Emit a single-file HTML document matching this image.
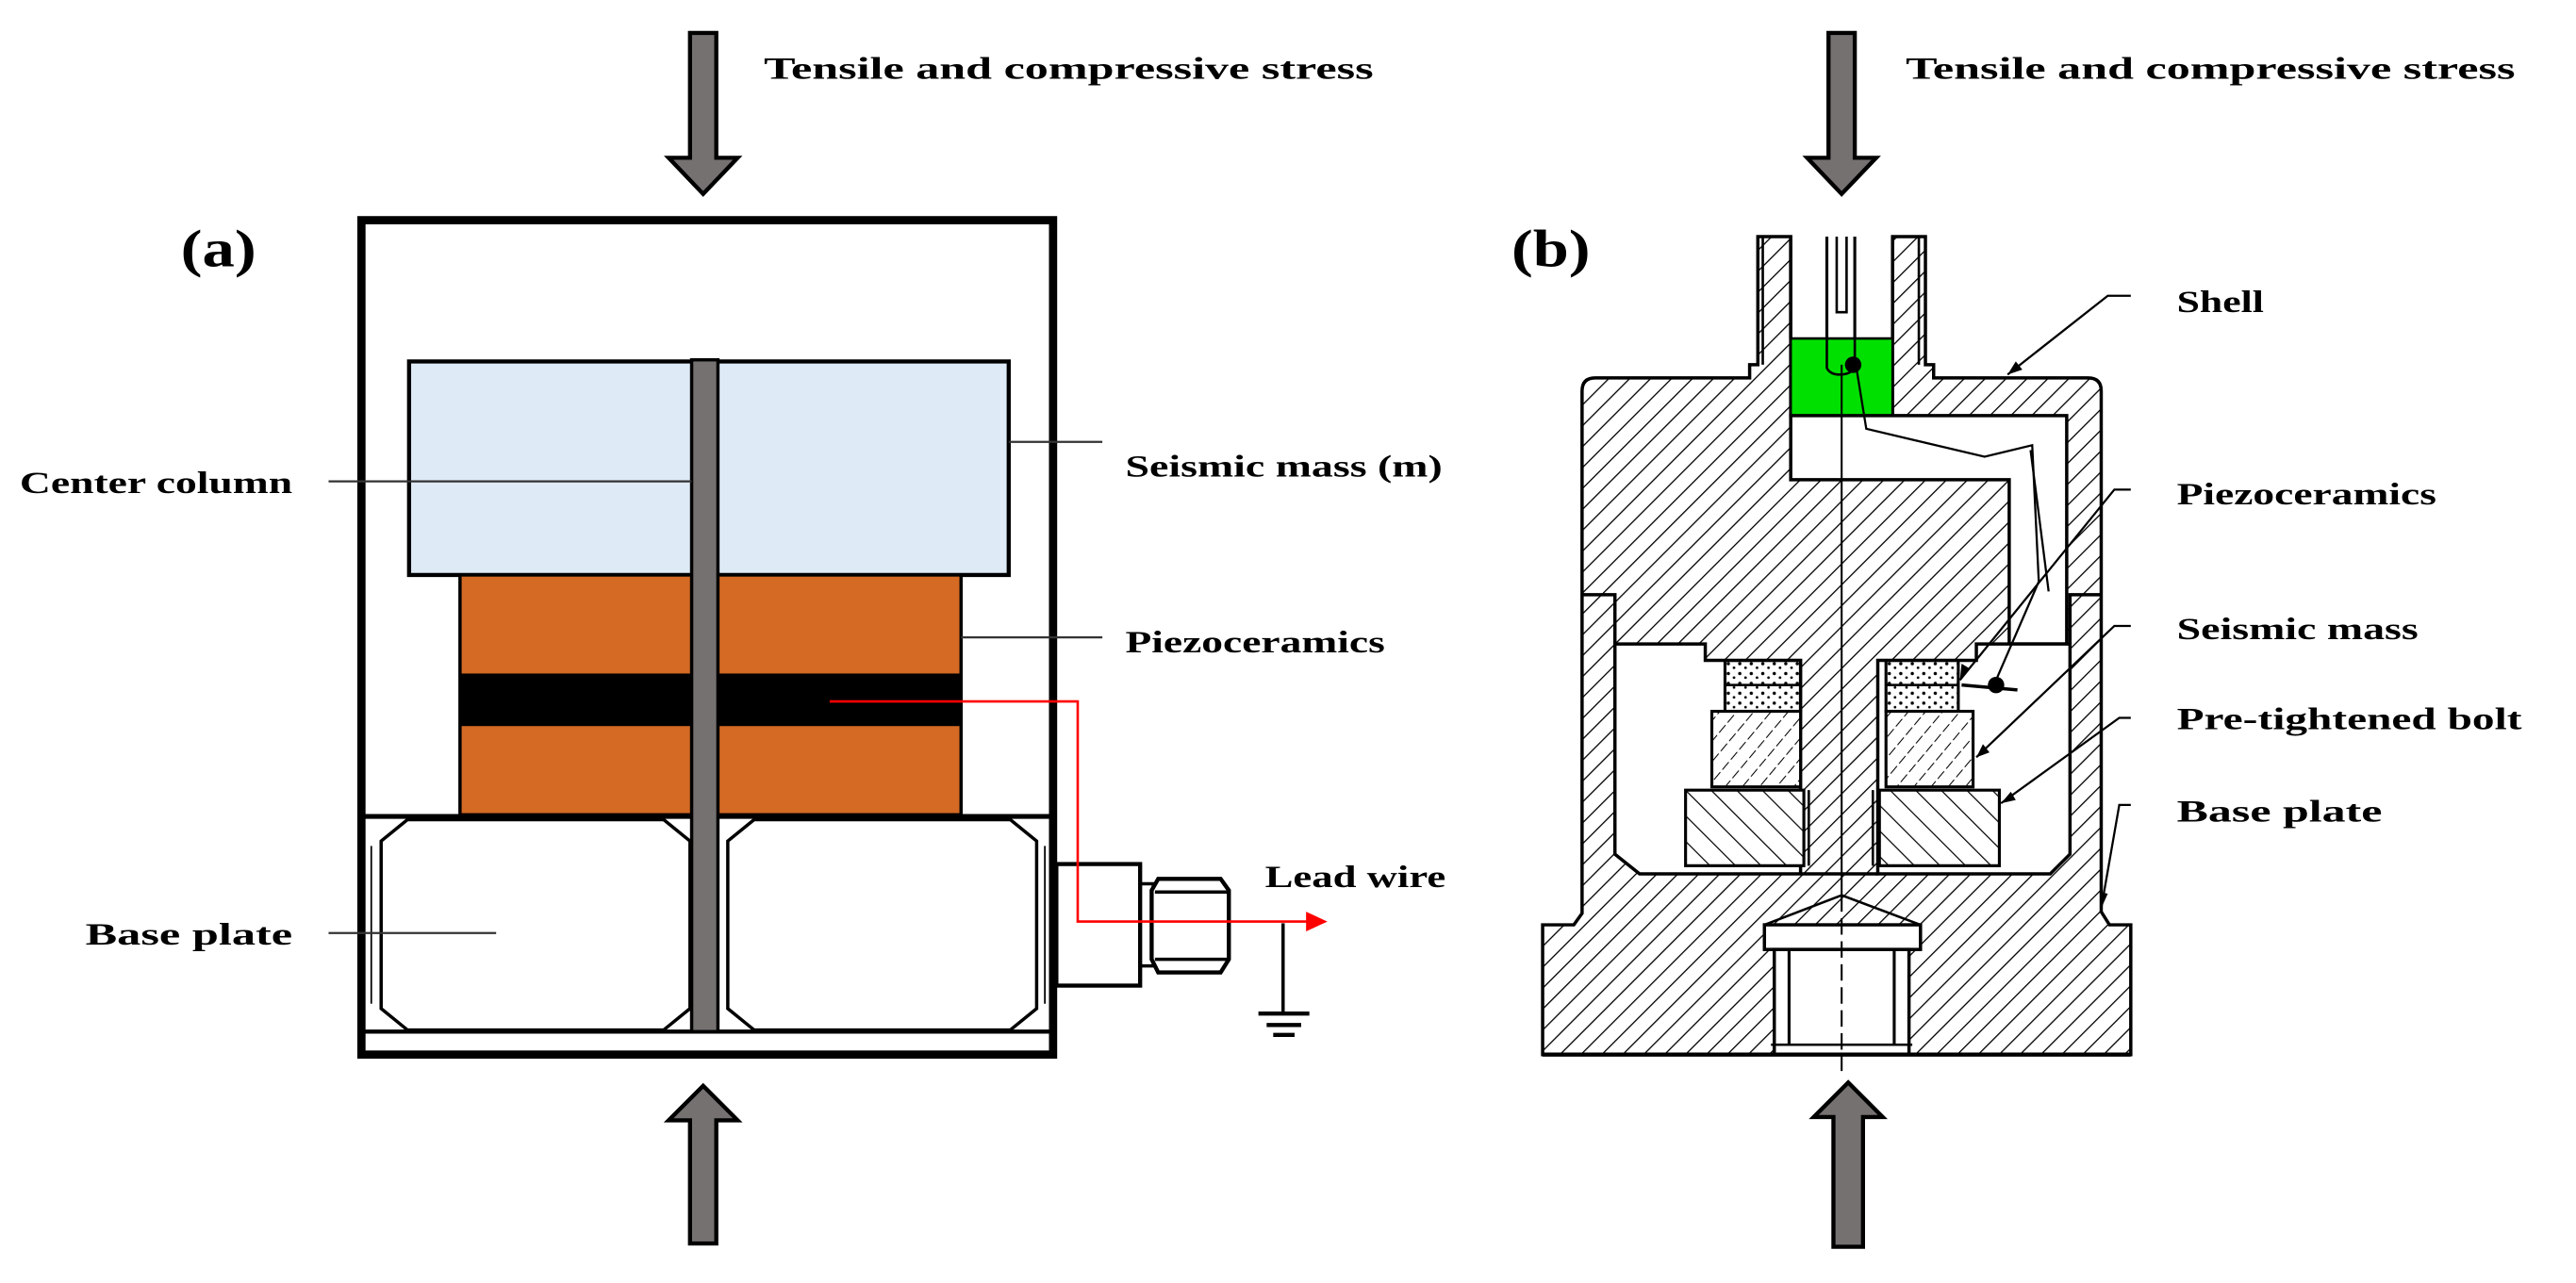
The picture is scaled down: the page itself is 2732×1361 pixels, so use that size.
<!DOCTYPE html>
<html><head><meta charset="utf-8"><style>
html,body{margin:0;padding:0;background:#fff;}
svg{display:block;}
text{font-family:"Liberation Serif","Times New Roman",serif;font-weight:700;fill:#000;}
</style></head><body>
<svg width="2732" height="1361" viewBox="0 0 1568 781" xmlns="http://www.w3.org/2000/svg" font-family="Liberation Serif, serif">
<defs>
<pattern id="h1" width="9" height="9" patternUnits="userSpaceOnUse" patternTransform="rotate(45)">
<line x1="0" y1="0" x2="0" y2="9" stroke="#000" stroke-width="1.5"/></pattern>
<pattern id="h2" width="11" height="11" patternUnits="userSpaceOnUse" patternTransform="rotate(-45)">
<line x1="0" y1="0" x2="0" y2="11" stroke="#000" stroke-width="1.4"/></pattern>
<pattern id="h3" width="8" height="8" patternUnits="userSpaceOnUse" patternTransform="rotate(40)">
<line x1="0" y1="0" x2="0" y2="8" stroke="#000" stroke-width="1.2" stroke-dasharray="5,2"/></pattern>
<pattern id="dots" width="7" height="6" patternUnits="userSpaceOnUse">
<circle cx="2" cy="2" r="1" fill="#000"/><circle cx="5.5" cy="4.5" r="0.8" fill="#000"/></pattern>
</defs>

<!-- ===== Panel (a) ===== -->
<path d="M420,20 H436 V96 H449 L428,118 L407,96 H420 Z" fill="#767171" stroke="#000" stroke-width="2.5"/>
<path d="M428,661 L449,682 H436 V757 H420 V682 H407 Z" fill="#767171" stroke="#000" stroke-width="2.5"/>

<rect x="220" y="134" width="421" height="508" fill="#fff" stroke="#000" stroke-width="5"/>
<line x1="222" y1="628" x2="639" y2="628" stroke="#000" stroke-width="2.5"/>
<line x1="222" y1="497" x2="639" y2="497" stroke="#000" stroke-width="3"/>
<path d="M248,499 L404,499 L420,512 L420,614 L404,627 L248,627 L232,614 L232,512 Z" fill="#fff" stroke="#000" stroke-width="2"/>
<path d="M459,499 L615,499 L631,512 L631,614 L615,627 L459,627 L443,614 L443,512 Z" fill="#fff" stroke="#000" stroke-width="2"/>
<line x1="226" y1="515" x2="226" y2="611" stroke="#000" stroke-width="1"/>
<line x1="636" y1="515" x2="636" y2="611" stroke="#000" stroke-width="1"/>
<rect x="249" y="220" width="365" height="130" fill="#DEEAF6" stroke="#000" stroke-width="2.5"/>
<rect x="280" y="350" width="305" height="146" fill="#D46A24" stroke="#000" stroke-width="2"/>
<rect x="280" y="410" width="305" height="32" fill="#000"/>
<rect x="421" y="219" width="16" height="409" fill="#767171" stroke="#000" stroke-width="2"/>
<rect x="643" y="526" width="51" height="74" fill="#fff" stroke="#000" stroke-width="2.5"/>
<path d="M694,538 H702 V588 H694" fill="none" stroke="#000" stroke-width="2"/>
<path d="M705,535 L743,535 L748,542 L748,584 L743,592 L705,592 L701,584 L701,542 Z" fill="#fff" stroke="#000" stroke-width="2.5"/>
<line x1="703" y1="543" x2="747" y2="543" stroke="#000" stroke-width="2"/>
<line x1="703" y1="584" x2="747" y2="584" stroke="#000" stroke-width="2"/>
<path d="M781,562 V616" stroke="#000" stroke-width="2" fill="none"/>
<line x1="766" y1="617" x2="797" y2="617" stroke="#000" stroke-width="2.5"/>
<line x1="771" y1="624" x2="792" y2="624" stroke="#000" stroke-width="2.5"/>
<line x1="775" y1="630" x2="788" y2="630" stroke="#000" stroke-width="2.5"/>
<path d="M505,427 H656 V561 H797" stroke="#f00" stroke-width="1.5" fill="none"/>
<path d="M795,555 L808,561 L795,567 Z" fill="#f00"/>
<line x1="200" y1="293" x2="421" y2="293" stroke="#333" stroke-width="1.3"/>
<line x1="614" y1="269" x2="671" y2="269" stroke="#333" stroke-width="1.3"/>
<line x1="585" y1="388" x2="671" y2="388" stroke="#333" stroke-width="1.3"/>
<line x1="200" y1="568" x2="302" y2="568" stroke="#333" stroke-width="1.3"/>
<text x="465" y="48" font-size="19" textLength="371" lengthAdjust="spacingAndGlyphs">Tensile and compressive stress</text>
<text x="110" y="162" font-size="32" textLength="46" lengthAdjust="spacingAndGlyphs">(a)</text>
<text x="12" y="300" font-size="19" textLength="166" lengthAdjust="spacingAndGlyphs">Center column</text>
<text x="685" y="290" font-size="19" textLength="193" lengthAdjust="spacingAndGlyphs">Seismic mass (m)</text>
<text x="685" y="397" font-size="19" textLength="158" lengthAdjust="spacingAndGlyphs">Piezoceramics</text>
<text x="770" y="540" font-size="19" textLength="110" lengthAdjust="spacingAndGlyphs">Lead wire</text>
<text x="52" y="575" font-size="19" textLength="126" lengthAdjust="spacingAndGlyphs">Base plate</text>

<!-- ===== Panel (b) ===== -->
<path d="M1113,20 H1129 V96 H1142 L1121,118 L1100,96 H1113 Z" fill="#767171" stroke="#000" stroke-width="2.5"/>
<path d="M1125,659 L1146,680 H1134 V759 H1116 V680 H1104 Z" fill="#767171" stroke="#000" stroke-width="2.5"/>

<path d="M963,238 Q963,230 971,230 L1065,230 L1065,222 L1070,222 L1070,144 L1090,144 L1090,253 L1152,253 L1152,144 L1172,144 L1172,222 L1177,222 L1177,230 L1271,230 Q1279,230 1279,238 L1279,555 L1284,563 L1297,563 L1297,642 L939,642 L939,563 L958,563 L963,556 Z" fill="url(#h1)" stroke="#000" stroke-width="2"/>
<rect x="1091" y="144" width="60" height="62" fill="#fff"/>
<line x1="1090" y1="144" x2="1090" y2="206" stroke="#000" stroke-width="2"/>
<line x1="1152" y1="144" x2="1152" y2="206" stroke="#000" stroke-width="2"/>
<line x1="1112" y1="144" x2="1112" y2="222" stroke="#000" stroke-width="1.8"/>
<line x1="1129" y1="144" x2="1129" y2="222" stroke="#000" stroke-width="1.8"/>
<path d="M1118,144 V190 H1124 V144" fill="none" stroke="#000" stroke-width="1.5"/>
<line x1="1073" y1="144" x2="1073" y2="222" stroke="#000" stroke-width="1.5"/>
<line x1="1168" y1="144" x2="1168" y2="222" stroke="#000" stroke-width="1.5"/>
<rect x="1090" y="206" width="62" height="47" fill="#00E000" stroke="#000" stroke-width="1.5"/>
<path d="M1112,206 V224 Q1114,228 1120,228 Q1126,228 1129,224 V206" fill="none" stroke="#000" stroke-width="1.5"/>
<path d="M1090,253 L1258,253 L1258,392 L1223,392 L1223,292 L1090,292 Z" fill="#fff" stroke="#000" stroke-width="2"/>
<path d="M963,362 H983 V392" fill="none" stroke="#000" stroke-width="2"/>
<path d="M1279,362 H1260 V392" fill="none" stroke="#000" stroke-width="2"/>
<path d="M983,392 L1038,392 L1038,402 L1096,402 L1096,532 L998,532 L983,520 Z" fill="#fff" stroke="#000" stroke-width="2"/>
<path d="M1143,402 L1203,402 L1203,392 L1260,392 L1260,520 L1248,532 L1143,532 Z" fill="#fff" stroke="#000" stroke-width="2"/>
<line x1="1096" y1="532" x2="1143" y2="532" stroke="#000" stroke-width="2"/>
<rect x="1050" y="402" width="46" height="31" fill="url(#dots)" stroke="#000" stroke-width="1.8"/>
<rect x="1148" y="402" width="44" height="31" fill="url(#dots)" stroke="#000" stroke-width="1.8"/>
<line x1="1050" y1="417" x2="1096" y2="417" stroke="#000" stroke-width="1.5"/>
<line x1="1148" y1="417" x2="1192" y2="417" stroke="#000" stroke-width="1.5"/>
<rect x="1042" y="433" width="54" height="46" fill="#fff"/>
<rect x="1042" y="433" width="54" height="46" fill="url(#h3)" stroke="#000" stroke-width="1.8"/>
<rect x="1148" y="433" width="53" height="46" fill="#fff"/>
<rect x="1148" y="433" width="53" height="46" fill="url(#h3)" stroke="#000" stroke-width="1.8"/>
<rect x="1026" y="481" width="72" height="46" fill="#fff"/>
<rect x="1026" y="481" width="72" height="46" fill="url(#h2)" stroke="#000" stroke-width="1.8"/>
<rect x="1144" y="481" width="73" height="46" fill="#fff"/>
<rect x="1144" y="481" width="73" height="46" fill="url(#h2)" stroke="#000" stroke-width="1.8"/>
<line x1="1101" y1="481" x2="1101" y2="527" stroke="#000" stroke-width="1.5"/>
<line x1="1140" y1="481" x2="1140" y2="527" stroke="#000" stroke-width="1.5"/>
<path d="M1121,545 L1074,563 L1169,563 Z" fill="none" stroke="#000" stroke-width="1.5"/>
<rect x="1074" y="563" width="95" height="15" fill="#fff" stroke="#000" stroke-width="2"/>
<rect x="1080" y="578" width="82" height="64" fill="#fff" stroke="#000" stroke-width="2"/>
<line x1="1089" y1="578" x2="1089" y2="636" stroke="#000" stroke-width="1.8"/>
<line x1="1153" y1="578" x2="1153" y2="636" stroke="#000" stroke-width="1.8"/>
<line x1="1078" y1="636" x2="1164" y2="636" stroke="#000" stroke-width="1.5"/>
<line x1="939" y1="642" x2="1297" y2="642" stroke="#000" stroke-width="2.5"/>
<line x1="1121" y1="222" x2="1121" y2="545" stroke="#000" stroke-width="1.2"/>
<line x1="1121" y1="545" x2="1121" y2="652" stroke="#000" stroke-width="1.2" stroke-dasharray="10,4"/>
<circle cx="1128" cy="222" r="5" fill="#000"/>
<path d="M1130,224 L1136,261 L1208,278 L1237,271 L1241,354 L1215,414" fill="none" stroke="#000" stroke-width="1.3"/>
<path d="M1236,274 L1247,360" fill="none" stroke="#000" stroke-width="1.3"/>
<circle cx="1215" cy="417" r="5" fill="#000"/>
<line x1="1194" y1="417" x2="1228" y2="420" stroke="#000" stroke-width="2"/>
<g fill="none" stroke="#000" stroke-width="1.3">
<path d="M1297,180 H1283 L1222,228"/>
<path d="M1297,298 H1287 L1193,414"/>
<path d="M1297,381 H1287 L1203,461"/>
<path d="M1297,437 H1290 L1218,489"/>
<path d="M1297,490 H1290 L1279,553"/>
</g>
<g fill="#000">
<path d="M1222,228 L1227,220 L1231,225 Z"/>
<path d="M1193,414 L1194,404 L1199,407 Z"/>
<path d="M1203,461 L1207,453 L1211,458 Z"/>
<path d="M1218,489 L1224,482 L1227,487 Z"/>
<path d="M1279,553 L1278,543 L1283,544 Z"/>
</g>
<text x="1160" y="48" font-size="19" textLength="371" lengthAdjust="spacingAndGlyphs">Tensile and compressive stress</text>
<text x="920" y="162" font-size="32" textLength="48" lengthAdjust="spacingAndGlyphs">(b)</text>
<text x="1325" y="190" font-size="19" textLength="53" lengthAdjust="spacingAndGlyphs">Shell</text>
<text x="1325" y="307" font-size="19" textLength="158" lengthAdjust="spacingAndGlyphs">Piezoceramics</text>
<text x="1325" y="389" font-size="19" textLength="147" lengthAdjust="spacingAndGlyphs">Seismic mass</text>
<text x="1325" y="444" font-size="19" textLength="210" lengthAdjust="spacingAndGlyphs">Pre-tightened bolt</text>
<text x="1325" y="500" font-size="19" textLength="125" lengthAdjust="spacingAndGlyphs">Base plate</text>
</svg>
</body></html>
